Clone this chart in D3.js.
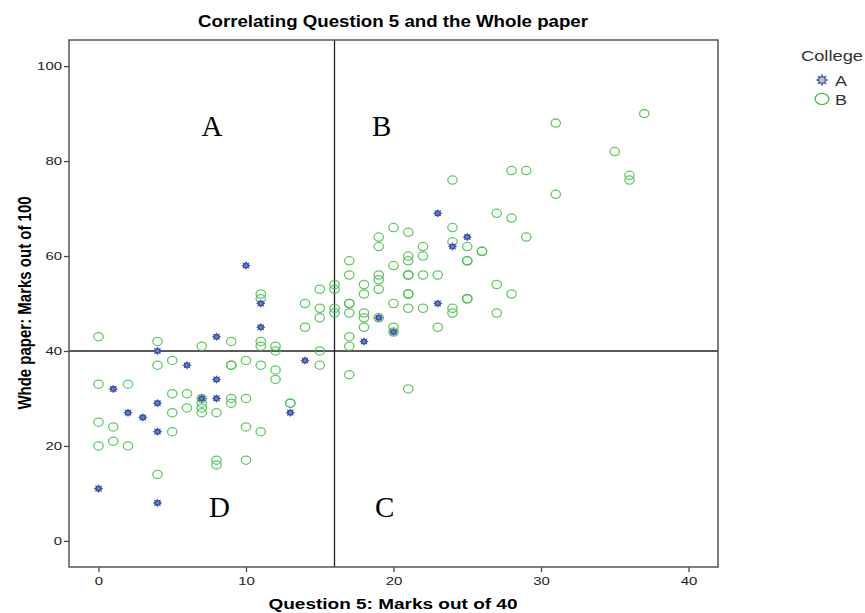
<!DOCTYPE html>
<html>
<head>
<meta charset="utf-8">
<script src="https://cdn.jsdelivr.net/npm/d3@7"></script>
<style>
  body { margin: 0; background: #fff; }
  svg text { font-family: Arial, "Liberation Sans", sans-serif; }
</style>
</head>
<body>
<div id="chart"></div>
<script>
// College A (blue stars): Question 5 mark, whole paper mark
const q5A = [10, 11, 11, 4, 8, 6, 8, 1, 7, 8, 4, 2, 3, 13, 4, 0, 4, 14, 23, 24, 25, 19, 20, 18, 23]
const wholeA = [58, 50, 45, 40, 43, 37, 34, 32, 30, 30, 29, 27, 26, 27, 23, 11, 8, 38, 69, 62, 64, 47, 44, 42, 50]

// College B (green circles)
const q5B = [
    0, 4, 7, 9, 11, 11, 11, 11, 12, 12, 14, 15, 15, 16, 16, 14, 15, 15, 12, 12,
    11, 10, 9, 9, 5, 4, 0, 2, 5, 6, 7, 7, 7, 7, 9, 9, 10, 8, 6, 5,
    0, 1, 5, 1, 0, 2, 10, 11, 8, 8, 10, 4, 13, 13, 15, 16, 16,
    24, 28, 29, 27, 28, 29, 20, 21, 24, 19, 19, 22, 24, 25, 26, 26, 25, 25, 17,
    21, 21, 22, 20, 17, 19, 19, 21, 21, 22, 23, 18, 18, 19, 21, 21, 27, 28, 17, 17,
    17, 18, 18, 19, 20, 21, 22, 24, 24, 25, 25, 27, 18, 20, 20, 23, 17, 17, 17, 21,
    37, 31, 35, 36, 36, 31
]
const wholeB = [
    43, 42, 41, 42, 42, 41, 52, 51, 41, 40, 50, 49, 47, 49, 48, 45, 40, 37, 36, 34,
    37, 38, 37, 37, 38, 37, 33, 33, 31, 31, 30, 29, 28, 27, 30, 29, 30, 27, 28, 27,
    25, 24, 23, 21, 20, 20, 24, 23, 17, 16, 17, 14, 29, 29, 53, 54, 53,
    76, 78, 78, 69, 68, 64, 66, 65, 66, 64, 62, 62, 63, 62, 61, 61, 59, 59, 59,
    60, 59, 60, 58, 56, 56, 55, 56, 56, 56, 56, 54, 52, 53, 52, 52, 54, 52, 50, 50,
    48, 48, 47, 47, 50, 49, 49, 49, 48, 51, 51, 48, 45, 45, 44, 45, 43, 41, 35, 32,
    90, 88, 82, 77, 76, 73
]

const xTicks = [0, 10, 20, 30, 40]
const yTicks = [0, 20, 40, 60, 80, 100]
const cutQ5 = 16
const cutWhole = 40
const quadrants = [
    { label: 'A', q5: 7.7, whole: 85.3 },
    { label: 'B', q5: 19.2, whole: 85.3 },
    { label: 'D', q5: 8.2, whole: 5 },
    { label: 'C', q5: 19.4, whole: 5 }
]
const colleges = ['A', 'B']

const blue = '#3d52b0'
const green = '#45bf4c'
const width = 865, height = 613
const plotLeft = 69, plotRight = 718, plotTop = 40, plotBottom = 567
// the reference picture is stretched sideways, so text is widened a bit
const stretch = 1.25

function widen(sel, f) {
    sel.each(function () {
        let len = this.getComputedTextLength()
        d3.select(this).attr('textLength', len * f).attr('lengthAdjust', 'spacingAndGlyphs')
    })
}

const svg = d3.select('#chart').append('svg')
    .attr('width', width)
    .attr('height', height)

const x = d3.scaleLinear().domain([-2, 42]).range([plotLeft, plotRight])
const y = d3.scaleLinear().domain([-5.5, 105.5]).range([plotBottom, plotTop])

// title
svg.append('text')
    .attr('x', 393).attr('y', 27)
    .attr('text-anchor', 'middle')
    .style('font-size', '16.5px').style('font-weight', 'bold')
    .text('Correlating Question 5 and the Whole paper')
    .attr('textLength', 390).attr('lengthAdjust', 'spacingAndGlyphs')

// axes
const xAxis = svg.append('g')
    .attr('transform', 'translate(0,' + plotBottom + ')')
    .call(d3.axisBottom(x).tickValues(xTicks).tickSize(5).tickSizeOuter(0).tickPadding(5))
const yAxis = svg.append('g')
    .attr('transform', 'translate(' + plotLeft + ',0)')
    .call(d3.axisLeft(y).tickValues(yTicks).tickSize(5).tickSizeOuter(0).tickPadding(2))

;[xAxis, yAxis].forEach(function (g) {
    g.select('.domain').remove()
    g.selectAll('line').attr('stroke', '#444').attr('stroke-width', 1.3)
    g.selectAll('text').style('font-size', '11.5px').attr('fill', '#222')
        .style('font-family', 'Arial, "Liberation Sans", sans-serif')
    widen(g.selectAll('text'), 1.3)
})

svg.append('text')
    .attr('x', 393).attr('y', 609)
    .attr('text-anchor', 'middle')
    .style('font-size', '14.5px').style('font-weight', 'bold')
    .text('Question 5: Marks out of 40')
    .attr('textLength', 249).attr('lengthAdjust', 'spacingAndGlyphs')

svg.append('text')
    .attr('transform', 'translate(24,' + 303 + ')scale(' + stretch + ',1)rotate(-90)')
    .attr('text-anchor', 'middle')
    .attr('dy', '0.35em')
    .style('font-size', '15px').style('font-weight', 'bold')
    .text('Whde paper: Marks out of 100')

// reference lines
svg.append('line')
    .attr('x1', x(cutQ5)).attr('x2', x(cutQ5))
    .attr('y1', plotTop).attr('y2', plotBottom)
    .attr('stroke', '#222').attr('stroke-width', 1.3)
svg.append('line')
    .attr('x1', plotLeft).attr('x2', plotRight)
    .attr('y1', y(cutWhole)).attr('y2', y(cutWhole))
    .attr('stroke', '#222').attr('stroke-width', 1.3)

// quadrant letters
svg.selectAll('text.quad')
    .data(quadrants)
    .enter().append('text')
    .attr('class', 'quad')
    .attr('x', function (d) { return x(d.q5) })
    .attr('y', function (d) { return y(d.whole) })
    .attr('text-anchor', 'middle')
    .style('font-family', '"Liberation Serif", "Times New Roman", serif')
    .style('font-size', '29px')
    .text(function (d) { return d.label })

function starPath(r1, r2, n) {
    let pts = []
    for (let i = 0; i < n * 2; i++) {
        let r = i % 2 === 0 ? r1 : r2
        let a = Math.PI * i / n - Math.PI / 2
        pts.push([r * Math.cos(a), r * Math.sin(a)])
    }
    return 'M' + pts.join('L') + 'Z'
}

// college B circles
const dataB = q5B.map(function (d, i) { return { q5: d, whole: wholeB[i] } })
svg.append('g').selectAll('ellipse')
    .data(dataB)
    .enter().append('ellipse')
    .attr('cx', function (d) { return x(d.q5) })
    .attr('cy', function (d) { return y(d.whole) })
    .attr('rx', 4.7)
    .attr('ry', 4.1)
    .attr('fill', 'none')
    .attr('stroke', green)
    .attr('stroke-width', 1.3)
    .attr('stroke-opacity', 0.85)

// college A stars
const dataA = q5A.map(function (d, i) { return { q5: d, whole: wholeA[i] } })
const stars = svg.append('g').selectAll('g')
    .data(dataA)
    .enter().append('g')
    .attr('transform', function (d) { return 'translate(' + x(d.q5) + ',' + y(d.whole) + ')scale(1.1,1)' })
stars.append('path')
    .attr('d', starPath(4.3, 2.8, 8))
    .attr('fill', blue)
stars.append('circle')
    .attr('r', 1.3)
    .attr('fill', '#7d88c4')

// frame
svg.append('rect')
    .attr('x', plotLeft).attr('y', plotTop)
    .attr('width', plotRight - plotLeft).attr('height', plotBottom - plotTop)
    .attr('fill', 'none')
    .attr('stroke', '#555')
    .attr('stroke-width', 1.5)

// legend
const legend = svg.append('g')
legend.append('text')
    .attr('x', 801).attr('y', 61)
    .style('font-size', '15px').attr('fill', '#333')
    .text('College')
    .attr('textLength', 62).attr('lengthAdjust', 'spacingAndGlyphs')
const items = legend.selectAll('g')
    .data(colleges)
    .enter().append('g')
    .attr('transform', function (d, i) { return 'translate(822,' + (80 + i * 19) + ')' })
items.append('text')
    .attr('x', 13).attr('y', 6)
    .style('font-size', '15px').attr('fill', '#333')
    .text(function (d) { return d })
widen(items.selectAll('text'), 1.2)
items.filter(function (d) { return d === 'A' }).append('path')
    .attr('d', starPath(6.5, 3.8, 8))
    .attr('fill', '#5368b8')
items.filter(function (d) { return d === 'A' }).append('circle')
    .attr('r', 2.6)
    .attr('fill', '#c9c79a')
items.filter(function (d) { return d === 'B' }).append('ellipse')
    .attr('rx', 6.8).attr('ry', 5.6)
    .attr('fill', 'none')
    .attr('stroke', green)
    .attr('stroke-width', 1.4)
</script>
</body>
</html>
